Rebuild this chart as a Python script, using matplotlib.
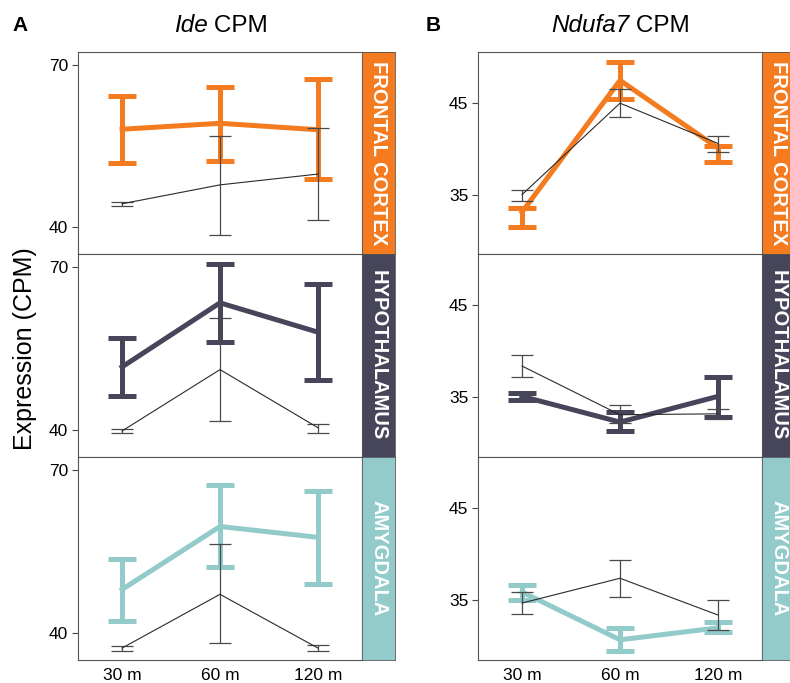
import numpy as np
import matplotlib
matplotlib.use("Agg")
import matplotlib.pyplot as plt

plt.rcParams['font.family'] = ['Liberation Sans', 'DejaVu Sans']

# Zeitpunkte und Regionen
times = ["30 m", "60 m", "120 m"]
regions = ["FRONTAL CORTEX", "HYPOTHALAMUS", "AMYGDALA"]
region_colors = ["#F47B20", "#46455A", "#92CBCA"]
genes = ["Ide", "Ndufa7"]

# Ide: farbige Serie (Mittelwert, unten, oben) je Region
ide_col_mean = [[58.1, 59.2, 58.0], [51.6, 63.4, 58.0], [48.0, 59.6, 57.6]]
ide_col_lo = [[51.8, 52.3, 48.9], [46.2, 56.2, 49.1], [42.1, 52.1, 49.0]]
ide_col_hi = [[64.3, 65.9, 67.4], [57.0, 70.6, 66.9], [53.6, 67.2, 66.1]]
# Ide: schwarze Serie
ide_blk_mean = [[44.3, 47.8, 49.8], [39.8, 51.1, 40.4], [37.2, 47.1, 37.2]]
ide_blk_lo = [[43.9, 38.6, 41.3], [39.5, 41.7, 39.4], [36.6, 38.1, 36.7]]
ide_blk_hi = [[44.7, 56.9, 58.3], [40.1, 60.6, 41.1], [37.5, 56.3, 37.8]]

# Ndufa7: farbige Serie
nd_col_mean = [[33.1, 47.5, 40.1], [35.1, 32.3, 35.1], [35.9, 30.7, 32.0]]
nd_col_lo = [[31.5, 45.5, 38.6], [34.7, 31.3, 32.9], [35.0, 29.5, 31.5]]
nd_col_hi = [[33.5, 49.5, 40.3], [35.5, 33.4, 37.2], [36.7, 32.0, 32.6]]
# Ndufa7: schwarze Serie
nd_blk_mean = [[35.0, 45.0, 40.6], [38.4, 33.1, 33.2], [34.7, 37.4, 33.4]]
nd_blk_lo = [[34.3, 43.5, 39.7], [37.2, 32.2, 32.6], [33.5, 35.4, 31.8]]
nd_blk_hi = [[35.5, 46.5, 41.4], [39.6, 34.2, 33.7], [35.9, 39.4, 35.0]]

W, H = 790, 683
fig = plt.figure(figsize=(W / 100, H / 100), dpi=100)

col_left = [78, 478]
plot_w = 284
strip_w = 33
row_top = [52, 254, 457]
row_h = [202, 203, 203]

columns = [
    dict(mean=ide_col_mean, lo=ide_col_lo, hi=ide_col_hi,
         bmean=ide_blk_mean, blo=ide_blk_lo, bhi=ide_blk_hi,
         ylim=(35, 72.4), yticks=[40, 70]),
    dict(mean=nd_col_mean, lo=nd_col_lo, hi=nd_col_hi,
         bmean=nd_blk_mean, blo=nd_blk_lo, bhi=nd_blk_hi,
         ylim=(28.5, 50.6), yticks=[35, 45]),
]

x = np.arange(1, len(times) + 1)

for c, cfg in enumerate(columns):
    for r in range(3):
        left = col_left[c] / W
        bottom = 1 - (row_top[r] + row_h[r]) / H
        height = row_h[r] / H
        ax = fig.add_axes([left, bottom, plot_w / W, height])

        m = np.array(cfg['mean'][r])
        lo = np.array(cfg['lo'][r])
        hi = np.array(cfg['hi'][r])
        ax.errorbar(x, m, yerr=[m - lo, hi - m], color=region_colors[r],
                    lw=3.6, elinewidth=3.6, capsize=10, capthick=3.6, zorder=2)

        bm = np.array(cfg['bmean'][r])
        blo = np.array(cfg['blo'][r])
        bhi = np.array(cfg['bhi'][r])
        ax.errorbar(x, bm, yerr=[bm - blo, bhi - bm], color="#2a2a2a",
                    ecolor="#4a4a4a", lw=0.8, elinewidth=0.9, capsize=8,
                    capthick=0.9, zorder=3)

        ax.set_xlim(0.55, 3.45)
        ax.set_ylim(*cfg['ylim'])
        ax.set_yticks(cfg['yticks'])
        ax.tick_params(axis='y', length=4, width=0.8, color='#444444',
                       labelsize=12.5, pad=3)
        ax.set_xticks(x)
        if r == 2:
            ax.set_xticklabels(times, fontsize=12.5)
            ax.tick_params(axis='x', length=0, pad=6)
        else:
            ax.set_xticklabels([])
            ax.tick_params(axis='x', length=0)
        for s in ax.spines.values():
            s.set_color('#555555')
            s.set_linewidth(0.8)

        # Streifen mit Regionsname
        sax = fig.add_axes([(col_left[c] + plot_w) / W, bottom, strip_w / W, height])
        sax.set_facecolor(region_colors[r])
        sax.set_xticks([])
        sax.set_yticks([])
        for s in sax.spines.values():
            s.set_color('#555555')
            s.set_linewidth(0.6)
        sax.text(0.5, 0.5, regions[r], rotation=270, color='white',
                 fontsize=14.5, fontweight='bold', ha='center', va='center',
                 transform=sax.transAxes)

# Titel: Genname kursiv, dann " CPM"
renderer = fig.canvas.get_renderer()
for c in range(2):
    cx = col_left[c] + plot_w / 2
    yb = 1 - 32 / H
    t1 = fig.text(0, yb, genes[c], fontsize=17.5, style='italic', va='baseline')
    t2 = fig.text(0, yb, "\u2009CPM", fontsize=17.5, va='baseline')
    w1 = t1.get_window_extent(renderer).width
    w2 = t2.get_window_extent(renderer).width
    x0 = cx - (w1 + w2) / 2
    t1.set_x(x0 / W)
    t2.set_x((x0 + w1 + 1) / W)

fig.text(12 / W, 1 - 31 / H, 'A', fontsize=15, fontweight='bold', va='baseline')
fig.text(426 / W, 1 - 31 / H, 'B', fontsize=15, fontweight='bold', va='baseline')
fig.text(25 / W, 1 - 349 / H, 'Expression (CPM)', fontsize=18, rotation=90,
         ha='center', va='center')

fig.savefig('out.png', dpi=100)
